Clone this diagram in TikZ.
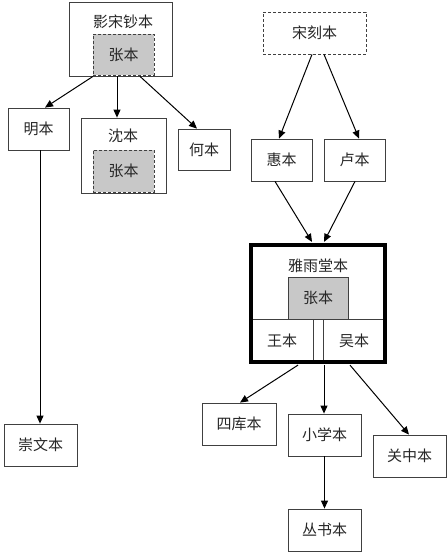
\documentclass[tikz,border=0pt]{standalone}
\usepackage{fontspec}
\setmainfont{Noto Sans CJK SC}
\usetikzlibrary{arrows.meta,calc}
\begin{document}
\begin{tikzpicture}[x=1pt,y=-1pt,
  every node/.style={inner sep=0pt,font=\fontsize{15}{17}\selectfont,text=black!85},
  box/.style={draw=black!75,line width=0.8pt,fill=white},
  dbox/.style={box,dashed,dash pattern=on 3pt off 2pt},
  gbox/.style={draw=black!75,line width=0.8pt,fill={rgb,255:red,200;green,200;blue,200}},
  gdbox/.style={gbox,dash pattern=on 3pt off 2pt},
  thickbox/.style={draw=black,line width=3.2pt},
  lbl/.style={draw=none,fill=none},
  arr/.style={-{Triangle[length=8pt,width=7pt]},line width=1pt,black}]
\useasboundingbox (0,0) rectangle (447,553);
% left group
\node[box,minimum width=103pt,minimum height=74pt] (ys) at (120.5,39) {};
\node[lbl] (yslbl) at (123,22) {影宋钞本};
\node[gdbox,minimum width=61pt,minimum height=41pt] (zh1) at (123.5,54.5) {张本};
\node[box,minimum width=61pt,minimum height=42pt] (ming) at (38.5,129) {明本};
\node[box,minimum width=85pt,minimum height=75pt] (shen) at (123.5,155.5) {};
\node[lbl] (shenlbl) at (123,136) {沈本};
\node[gdbox,minimum width=61pt,minimum height=42pt] (zh2) at (123.5,171) {张本};
\node[box,minimum width=52pt,minimum height=41pt] (he) at (204,149.5) {何本};
\node[box,minimum width=73pt,minimum height=42pt] (chong) at (40.5,445) {崇文本};
% right group
\node[dbox,minimum width=103pt,minimum height=42pt] (song) at (314.5,33) {宋刻本};
\node[box,minimum width=61pt,minimum height=42pt] (hui) at (281.5,160) {惠本};
\node[box,minimum width=61pt,minimum height=42pt] (lu) at (354.5,160) {卢本};
\node[box,minimum width=134pt,minimum height=117pt] (yy) at (318,303.5) {};
\node[lbl] (yylbl) at (318,266) {雅雨堂本};
\node[gbox,minimum width=60pt,minimum height=42pt] (zh3) at (318,298) {张本};
\node[box,minimum width=62pt,minimum height=43pt] (wang) at (282,340.5) {王本};
\node[box,minimum width=62pt,minimum height=43pt] (wu) at (354,340.5) {吴本};
\node[box,minimum width=10pt,minimum height=43pt] (gap) at (318,340.5) {};
\node[thickbox,minimum width=134pt,minimum height=117pt] (yyframe) at (318,303.5) {};
\node[box,minimum width=74pt,minimum height=42pt] (siku) at (239,424) {四库本};
\node[box,minimum width=73pt,minimum height=42pt] (xx) at (324.5,435) {小学本};
\node[box,minimum width=73pt,minimum height=42pt] (gz) at (409.5,456) {关中本};
\node[box,minimum width=73pt,minimum height=42pt] (cs) at (324.5,530) {丛书本};
% arrows
\draw[arr] ($(ys.south)+(-27.5,0)$) -- ($(ming.north)+(6.5,0)$);
\draw[arr] ($(ys.south)+(-3.5,0)$) -- ($(shen.north)+(-6.5,0)$);
\draw[arr] ($(ys.south)+(19.5,0)$) -- ($(he.north)+(-7,0)$);
\draw[arr] ($(ming.south)+(1.5,0)$) -- ($(chong.north)+(-0.5,0)$);
\draw[arr] ($(song.south)+(-2.5,0)$) -- ($(hui.north)+(-2.5,0)$);
\draw[arr] ($(song.south)+(9.5,0)$) -- ($(lu.north)+(4.5,0)$);
\draw[arr] ($(hui.south)+(-6.5,0)$) -- ($(yyframe.north)+(-6,-1.5)$);
\draw[arr] ($(lu.south)+(0.5,0)$) -- ($(yyframe.north)+(6,-1.5)$);
\draw[arr] ($(yyframe.south)+(-20,1.5)$) -- ($(siku.north)+(1,0)$);
\draw[arr] ($(yyframe.south)+(6,1.5)$) -- ($(xx.north)+(-0.5,0)$);
\draw[arr] ($(yyframe.south)+(32,1.5)$) -- ($(gz.north)+(-0.5,0)$);
\draw[arr] (xx.south) -- (cs.north);
\end{tikzpicture}
\end{document}
